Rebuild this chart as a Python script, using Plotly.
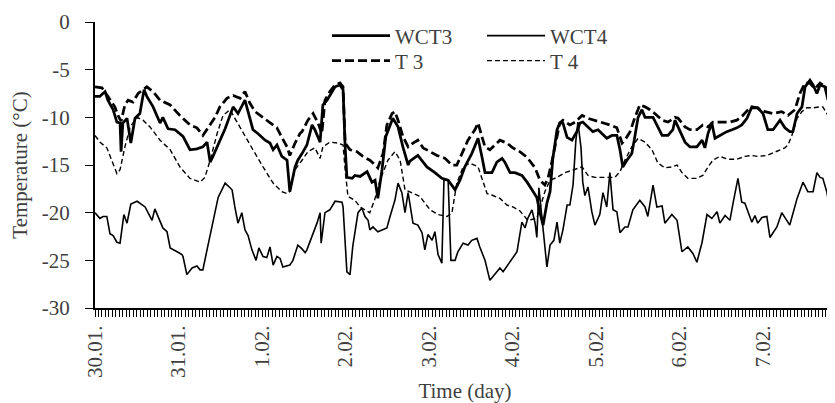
import plotly.graph_objects as go

# ---- data (time in hours from 30.01. 00:00, temperature in °C) ----
day_labels = ["30.01.", "31.01.", "1.02.", "2.02.", "3.02.", "4.02.", "5.02.", "6.02.", "7.02."]
day_hours = [0, 24, 48, 72, 96, 120, 144, 168, 192]
y_ticks = [0, -5, -10, -15, -20, -25, -30]
y_tick_text = ["0", "-5", "-10", "-15", "-20", "-25", "-30"]

wct3_h = [0, 1.4, 2.9, 3.7, 5.2, 6.3, 7.2, 7.5, 8.0, 9.2, 10.3, 11.5, 12.9, 14.1, 14.9, 16.7, 18.7, 19.5, 21.0, 23.0,
          25.3, 27.3, 29.3, 31.0, 32.2, 33.1, 33.9, 35.9, 37.4, 39.7, 41.1, 43.1, 45.4, 46.8, 48.9, 50.3, 51.2, 52.3, 53.7, 55.2,
          56.0, 57.5, 58.3, 59.5, 60.9, 62.4, 63.2, 64.7, 65.5, 66.7, 67.5, 69.0, 70.4, 71.3, 71.9, 72.4, 73.9, 74.7, 76.2, 78.2,
          79.6, 80.5, 81.3, 82.5, 83.6, 84.8, 85.6, 87.1, 88.5, 90.0, 90.5, 92.8, 95.4, 97.7, 99.7, 101.5, 102.6, 103.5, 104.9, 106.3,
          108.3, 110.1, 111.2, 112.1, 114.1, 115.5, 117.0, 117.8, 119.3, 120.7, 122.7, 124.2, 125.6, 127.0, 127.9, 128.8, 129.9, 130.8, 131.6, 132.2,
          132.8, 133.6, 134.5, 135.7, 137.1, 138.5, 139.4, 140.2, 141.7, 143.1, 144.6, 146.6, 147.1, 148.6, 150.0, 150.9, 151.7, 152.9, 154.3, 154.9,
          156.1, 157.2, 158.1, 160.4, 161.8, 163.0, 164.7, 166.1, 166.7, 168.1, 169.6, 171.0, 173.0, 174.5, 175.3, 176.2, 177.3, 178.2, 179.6, 181.6,
          183.1, 184.5, 185.9, 187.4, 188.8, 190.5, 192.0, 193.4, 194.9, 196.9, 198.3, 199.7, 200.6, 201.8, 203.2, 204.1, 205.5, 206.4, 207.5, 208.4,
          209.8, 210.7, 211.8, 212.7]
wct3_v = [-7.8, -7.8, -7.3, -8.2, -9.2, -10.5, -10.6, -13.6, -10.6, -10.1, -12.7, -10.1, -9.6, -7.1, -7.8, -8.9, -10.6, -10.0, -11.2, -11.3,
          -12.0, -13.4, -13.3, -13.1, -12.6, -14.7, -14.1, -12.4, -11.2, -8.9, -9.6, -8.2, -11.3, -11.7, -12.4, -12.7, -13.4, -12.9, -14.1, -14.5,
          -17.8, -15.2, -14.5, -13.8, -12.9, -10.8, -11.3, -12.6, -8.7, -8.2, -7.7, -6.8, -6.6, -7.1, -13.1, -16.3, -16.4, -16.1, -16.2, -15.7,
          -16.8, -16.6, -18.5, -15.5, -12.0, -10.8, -10.1, -11.0, -13.1, -15.0, -14.6, -14.0, -15.2, -15.8, -16.4, -16.6, -17.1, -17.6, -16.6, -15.2,
          -13.8, -12.2, -14.1, -15.8, -15.8, -14.7, -14.3, -14.7, -15.8, -15.8, -16.1, -16.8, -17.6, -18.4, -20.0, -21.3, -19.0, -17.8, -14.3, -12.6,
          -11.3, -10.6, -10.6, -12.1, -12.4, -11.5, -10.6, -10.5, -11.0, -11.5, -11.3, -12.0, -12.2, -11.9, -11.9, -13.4, -15.2, -14.5, -13.8, -12.6,
          -10.0, -9.2, -10.0, -10.0, -11.0, -11.9, -11.9, -11.3, -10.3, -11.5, -12.6, -13.1, -13.1, -12.4, -13.2, -11.7, -10.6, -12.2, -11.9, -11.5,
          -11.3, -11.1, -10.8, -10.1, -8.9, -9.0, -9.6, -11.3, -11.3, -10.3, -11.1, -11.5, -11.5, -9.6, -8.9, -6.8, -6.1, -6.6, -7.5, -6.6,
          -6.8, -8.2, -7.5, -8.2]

wct4_h = [0, 1.4, 2.3, 3.4, 4.3, 5.2, 6.3, 7.2, 8.3, 9.2, 10.3, 12.1, 14.4, 16.4, 17.2, 18.7, 19.5, 20.7, 21.6, 23.6,
          25.0, 25.3, 26.4, 27.9, 29.3, 30.2, 31.0, 32.2, 33.6, 35.4, 37.4, 39.4, 40.2, 41.1, 42.2, 43.1, 44.0, 45.1, 46.3, 47.1,
          48.3, 49.4, 50.3, 51.2, 52.3, 53.2, 54.0, 56.0, 56.9, 58.3, 59.5, 60.4, 60.9, 62.4, 63.8, 64.7, 65.0, 66.1, 67.5, 69.0,
          71.0, 71.3, 72.4, 73.3, 74.1, 75.6, 76.7, 77.6, 78.5, 79.0, 79.9, 81.3, 82.5, 83.9, 84.8, 86.2, 87.1, 88.2, 89.1, 90.0,
          91.4, 92.8, 94.0, 94.8, 95.7, 96.9, 97.7, 98.6, 99.7, 100.3, 101.5, 102.3, 103.5, 104.3, 105.8, 107.2, 108.3, 109.8, 110.6, 112.1,
          113.5, 115.0, 116.4, 117.3, 118.7, 120.1, 121.3, 122.7, 123.6, 124.4, 125.6, 126.5, 127.0, 127.6, 128.5, 129.9, 130.8, 131.9, 132.8, 133.6,
          134.5, 135.7, 136.5, 137.4, 138.2, 138.8, 139.7, 140.2, 140.8, 141.7, 142.8, 143.7, 145.1, 146.0, 147.1, 148.0, 148.9, 150.0, 150.9, 152.3,
          153.2, 154.6, 156.6, 158.1, 158.9, 160.4, 161.5, 163.0, 163.8, 165.8, 167.3, 168.7, 170.4, 171.9, 173.0, 174.5, 175.9, 177.3, 178.8, 179.6,
          181.1, 182.5, 183.4, 184.8, 185.9, 186.8, 187.7, 188.8, 189.7, 190.5, 191.7, 193.1, 194.0, 196.0, 197.4, 198.3, 199.7, 201.8, 203.5, 204.9,
          206.4, 207.5, 208.4, 209.2, 210.4, 211.2, 212.7]
wct4_v = [-20.0, -20.6, -20.4, -20.4, -22.2, -22.4, -23.1, -23.2, -20.2, -21.1, -19.1, -18.8, -19.4, -20.8, -19.6, -20.8, -21.6, -22.0, -23.7, -24.1,
          -24.4, -24.6, -26.5, -25.8, -25.6, -26.0, -26.0, -23.9, -21.5, -18.4, -16.9, -17.6, -19.4, -21.1, -20.0, -21.8, -22.4, -23.9, -25.0, -23.7,
          -24.6, -24.7, -23.6, -25.5, -24.6, -24.8, -25.7, -25.5, -25.0, -23.4, -23.8, -24.2, -23.9, -22.5, -21.1, -20.0, -23.2, -20.0, -19.7, -18.8,
          -18.9, -19.4, -26.2, -26.5, -23.5, -20.0, -19.5, -20.4, -20.8, -21.8, -21.5, -22.0, -21.8, -21.6, -20.4, -18.7, -16.9, -17.9, -20.0, -17.9,
          -21.1, -21.3, -22.1, -23.9, -22.3, -22.9, -22.0, -24.4, -25.3, -16.6, -16.6, -25.0, -25.0, -24.1, -23.2, -23.4, -22.9, -22.7, -23.6, -25.0,
          -27.1, -26.4, -25.8, -26.2, -25.5, -24.8, -24.1, -21.0, -21.6, -20.6, -19.7, -21.1, -22.6, -17.4, -20.5, -25.7, -23.4, -22.9, -21.0, -23.2,
          -21.8, -19.2, -19.2, -17.1, -12.5, -10.5, -13.2, -16.8, -18.2, -17.3, -19.9, -21.3, -20.2, -17.9, -19.4, -15.8, -19.7, -19.9, -22.1, -21.5,
          -21.5, -19.7, -18.7, -19.4, -20.4, -17.1, -19.4, -19.3, -21.1, -20.2, -20.8, -24.1, -23.6, -24.3, -25.2, -23.1, -20.2, -20.6, -19.9, -21.1,
          -20.3, -20.8, -19.0, -16.4, -18.9, -19.0, -19.9, -21.0, -20.3, -21.1, -20.5, -20.4, -22.6, -21.5, -20.0, -20.5, -21.3, -18.5, -16.8, -17.8,
          -17.8, -15.8, -16.3, -16.4, -17.9, -19.7, -20.4]

t3_h = [0, 2.0, 3.7, 5.7, 6.6, 7.5, 8.6, 9.5, 10.9, 12.4, 14.9, 16.7, 18.7, 21.6, 24.4, 27.3, 29.3, 31.0, 32.5, 34.5,
        35.9, 37.9, 39.7, 41.7, 43.1, 44.5, 46.0, 48.3, 50.3, 52.3, 53.7, 55.2, 56.0, 57.5, 58.9, 59.5, 61.2, 62.7, 64.1, 65.2,
        66.1, 67.5, 69.0, 70.4, 71.3, 71.9, 73.3, 75.3, 77.0, 79.0, 80.5, 81.3, 82.8, 83.9, 85.4, 86.2, 87.1, 88.5, 90.0, 91.4,
        92.8, 94.3, 96.3, 98.3, 100.6, 102.6, 104.0, 105.5, 107.2, 109.2, 110.1, 111.2, 112.1, 113.5, 115.0, 116.4, 118.4, 120.1, 122.1, 124.2,
        126.5, 127.9, 129.3, 130.2, 131.3, 132.8, 133.6, 134.5, 136.5, 138.0, 140.0, 141.7, 143.7, 145.7, 148.0, 150.0, 151.5, 152.3, 153.8, 155.2,
        156.6, 158.1, 159.5, 160.9, 163.0, 164.7, 166.7, 167.6, 169.6, 171.0, 173.0, 174.7, 176.2, 177.6, 180.2, 182.5, 184.5, 186.2, 188.2, 190.3,
        192.6, 194.9, 197.4, 199.2, 201.2, 202.6, 204.1, 205.5, 206.9, 208.4, 210.4, 211.8, 212.7]
t3_v = [-6.8, -6.9, -7.8, -8.9, -9.8, -10.4, -8.7, -8.2, -8.4, -7.5, -6.8, -7.3, -8.2, -8.7, -9.8, -10.8, -11.1, -11.9, -11.1, -10.0,
        -8.9, -8.0, -7.7, -8.0, -7.3, -8.5, -9.4, -10.0, -10.6, -11.1, -12.1, -13.1, -14.0, -12.7, -11.7, -11.5, -10.3, -9.6, -10.6, -11.7,
        -8.2, -7.3, -6.6, -6.4, -6.8, -12.7, -13.4, -13.6, -14.1, -14.5, -15.0, -15.3, -13.8, -10.8, -9.6, -9.4, -10.3, -12.0, -13.1, -12.7,
        -12.4, -13.2, -13.6, -14.0, -14.3, -15.0, -15.0, -13.8, -12.4, -11.3, -10.6, -12.0, -13.1, -13.4, -12.9, -12.4, -12.7, -13.2, -13.6, -14.2,
        -15.3, -16.6, -17.1, -16.4, -14.7, -11.9, -10.6, -10.3, -10.8, -10.5, -9.8, -10.1, -10.3, -10.5, -10.8, -11.1, -12.7, -12.4, -11.5, -10.0,
        -8.7, -8.9, -9.2, -9.6, -10.3, -10.5, -10.0, -10.1, -11.0, -11.3, -11.3, -10.8, -11.0, -10.5, -10.5, -10.5, -10.3, -9.8, -9.0, -9.0,
        -9.4, -9.6, -9.4, -9.8, -9.2, -7.5, -6.4, -6.4, -7.0, -6.4, -6.9, -7.5, -7.9]

t4_h = [0, 1.4, 3.4, 4.9, 6.3, 7.2, 8.6, 10.1, 12.1, 13.8, 15.8, 18.7, 21.6, 24.4, 27.3, 30.2, 31.6, 33.1, 35.1, 36.8,
        38.8, 40.2, 42.5, 45.4, 48.3, 51.2, 53.7, 55.2, 56.0, 57.5, 59.5, 61.2, 63.2, 64.7, 65.5, 67.5, 69.8, 71.3, 71.9, 72.7,
        74.7, 76.2, 77.6, 79.0, 80.5, 81.9, 84.2, 86.2, 87.7, 89.1, 93.4, 96.3, 98.6, 101.2, 102.6, 104.0, 105.8, 107.8, 110.1, 112.7,
        114.4, 116.4, 118.4, 120.1, 122.1, 124.4, 127.0, 129.3, 130.8, 132.8, 135.1, 137.4, 140.0, 141.7, 143.7, 146.6, 149.4, 150.9, 152.3, 154.3,
        156.1, 158.1, 160.1, 161.8, 163.8, 165.8, 167.3, 168.7, 170.4, 173.0, 174.7, 176.2, 177.6, 179.6, 181.9, 184.5, 186.8, 188.8, 190.5, 193.1,
        196.0, 198.3, 199.2, 200.3, 201.8, 203.2, 204.6, 206.4, 208.4, 209.2, 210.4, 211.2, 212.1, 212.7]
t4_v = [-11.9, -12.6, -13.2, -14.5, -15.9, -15.5, -13.1, -11.0, -10.0, -10.3, -11.0, -12.4, -13.4, -15.2, -16.4, -16.8, -16.3, -14.5, -11.7, -9.8,
        -9.2, -10.1, -11.5, -13.4, -15.2, -16.9, -17.8, -18.0, -17.8, -15.5, -14.5, -13.6, -13.2, -14.3, -13.1, -12.6, -12.7, -12.9, -15.5, -18.3,
        -18.7, -19.4, -19.7, -20.0, -18.5, -16.6, -14.5, -13.6, -14.5, -17.6, -18.3, -19.7, -20.2, -20.4, -20.0, -16.9, -15.2, -14.8, -15.2, -18.0,
        -18.2, -18.5, -19.2, -19.4, -19.8, -20.8, -20.6, -17.8, -16.6, -16.3, -15.8, -15.5, -15.2, -16.1, -16.3, -16.3, -16.3, -15.7, -14.5, -13.1,
        -12.2, -12.6, -13.4, -14.8, -15.3, -15.2, -15.0, -15.8, -16.4, -16.4, -16.1, -15.2, -14.5, -14.1, -14.4, -14.4, -14.1, -14.0, -14.1, -14.0,
        -13.6, -13.2, -12.9, -11.9, -10.1, -9.4, -9.0, -9.0, -8.9, -8.9, -9.6, -10.5, -11.3, -12.0]

# hourly tick marks; a date label at the start of each day
x_end = 212.7
hour_ticks = list(range(0, int(x_end) + 1))
hour_tick_text = [day_labels[day_hours.index(h)] if h in day_hours else "" for h in hour_ticks]

FONT = "Liberation Serif"
TXT = "#404040"
FS = 21
W, H = 827, 395  # page body has an 8px margin inside the 835x403 window

fig = go.Figure()
fig.add_trace(go.Scatter(x=wct3_h, y=wct3_v, mode="lines", name="WCT3",
                         line=dict(color="black", width=2.75), legend="legend"))
fig.add_trace(go.Scatter(x=wct4_h, y=wct4_v, mode="lines", name="WCT4",
                         line=dict(color="black", width=1.6), legend="legend"))
fig.add_trace(go.Scatter(x=t3_h, y=t3_v, mode="lines", name="T 3",
                         line=dict(color="black", width=2.75, dash="9px,4px"), legend="legend2"))
fig.add_trace(go.Scatter(x=t4_h, y=t4_v, mode="lines", name="T 4",
                         line=dict(color="black", width=1.4, dash="5px,3px"), legend="legend2"))

legend_common = dict(orientation="h", xref="container", yref="container", xanchor="left", yanchor="middle",
                     font=dict(family=FONT, size=FS, color=TXT), bgcolor="rgba(0,0,0,0)",
                     itemwidth=58, entrywidthmode="pixels", entrywidth=82, tracegroupgap=0,
                     itemclick=False)

fig.update_layout(
    width=W, height=H, autosize=False,
    margin=dict(l=87, r=0, t=14, b=95, autoexpand=False),
    paper_bgcolor="white", plot_bgcolor="white",
    font=dict(family=FONT, size=FS, color=TXT),
    legend=dict(x=319 / W, y=1 - 28 / H, **legend_common),
    legend2=dict(x=319 / W, y=1 - 53 / H, **legend_common),
    xaxis=dict(range=[0, x_end], tickmode="array", tickvals=hour_ticks, ticktext=hour_tick_text,
               tickangle=-90, ticks="outside", ticklen=7, tickwidth=1, tickcolor="black",
               showline=True, linecolor="black", linewidth=2, showgrid=False, zeroline=False,
               automargin=False,
               tickfont=dict(family=FONT, size=FS, color=TXT),
               title=dict(text="Time (day)", font=dict(family=FONT, size=FS, color=TXT), standoff=8)),
    yaxis=dict(range=[-30, 0], tickmode="array", tickvals=y_ticks, ticktext=y_tick_text,
               ticks="outside", ticklen=8, tickwidth=1, tickcolor="black",
               showline=True, linecolor="black", linewidth=2, showgrid=False, zeroline=False,
               automargin=False,
               tickfont=dict(family=FONT, size=FS, color=TXT), ticklabelstandoff=11,
               title=dict(text="Temperature (°C)", font=dict(family=FONT, size=FS, color=TXT), standoff=9)),
)

fig.write_html("out.html")
